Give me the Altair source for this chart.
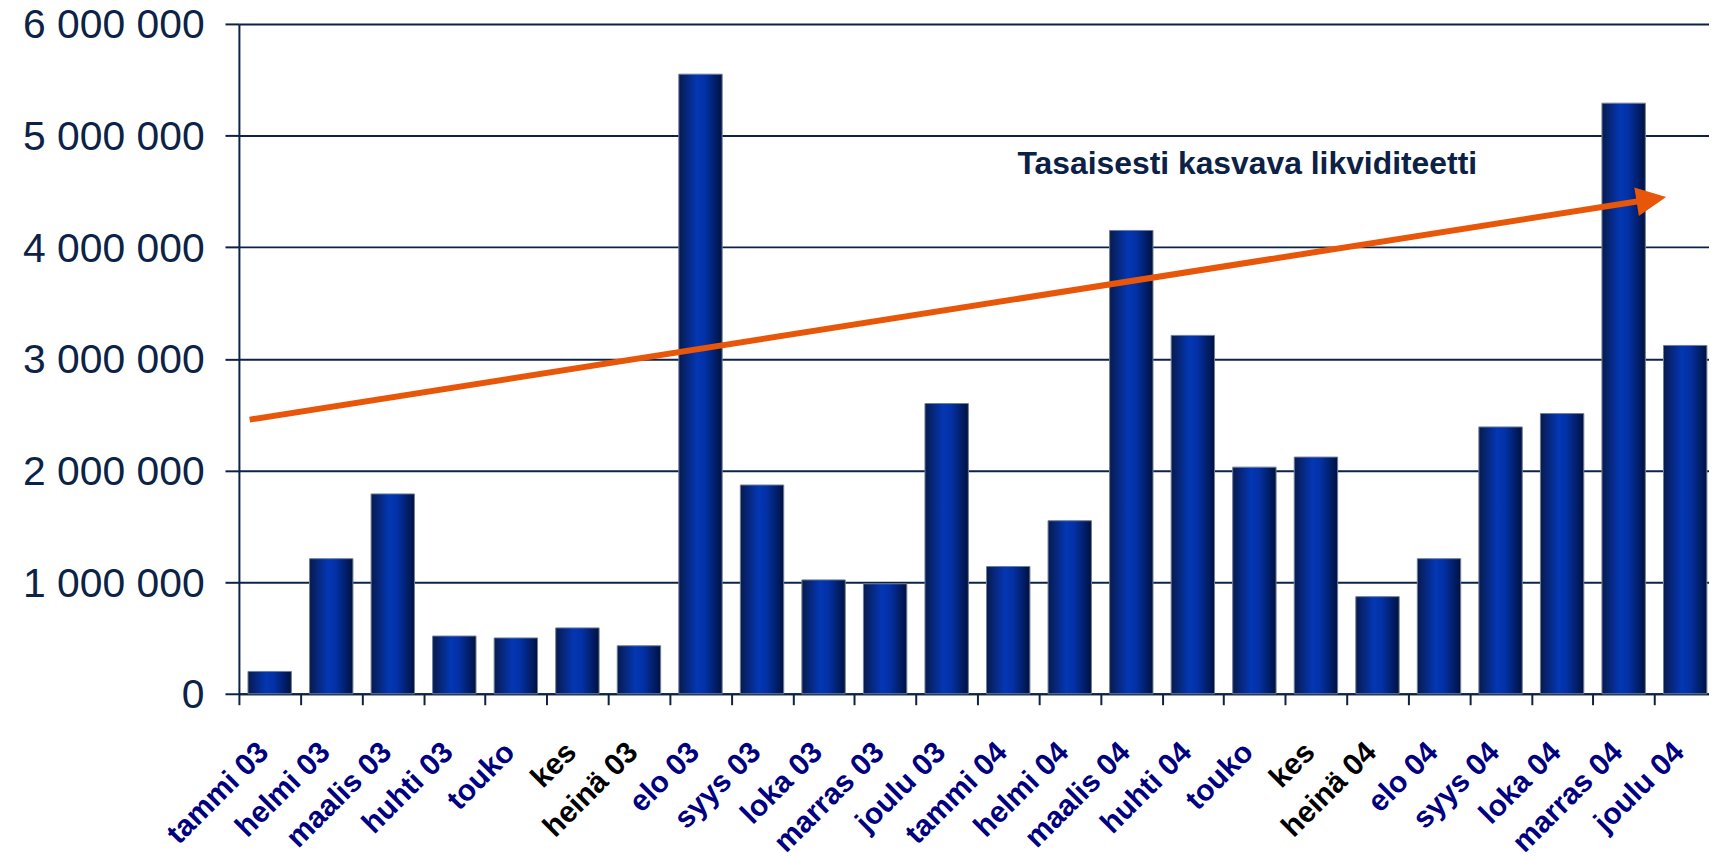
import altair as alt
import pandas as pd

# ---- data ----
months = ["tammi 03", "helmi 03", "maalis 03", "huhti 03", "touko 03", "kesä 03",
          "heinä 03", "elo 03", "syys 03", "loka 03", "marras 03", "joulu 03",
          "tammi 04", "helmi 04", "maalis 04", "huhti 04", "touko 04", "kesä 04",
          "heinä 04", "elo 04", "syys 04", "loka 04", "marras 04", "joulu 04"]
shown_labels = ["tammi 03", "helmi 03", "maalis 03", "huhti 03", "touko", "kes",
                "heinä 03", "elo 03", "syys 03", "loka 03", "marras 03", "joulu 03",
                "tammi 04", "helmi 04", "maalis 04", "huhti 04", "touko", "kes",
                "heinä 04", "elo 04", "syys 04", "loka 04", "marras 04", "joulu 04"]
black_labels = ["kesä 03", "heinä 03", "kesä 04", "heinä 04"]
liquidity = [200000, 1210000, 1790000, 517000, 500000, 590000,
             430000, 5550000, 1870000, 1020000, 985000, 2600000,
             1140000, 1550000, 4150000, 3210000, 2030000, 2120000,
             870000, 1210000, 2390000, 2510000, 5290000, 3120000]
y_ticks = [0, 1000000, 2000000, 3000000, 4000000, 5000000, 6000000]

# trend arrow (in month-index units and value units)
arrow_x = [0.175, 22.9]
arrow_y = [2456000, 4425000]
head_x = [22.95]
head_y = [4428000]
note_text = ["Tasaisesti kasvava likviditeetti"]
note_x = [12.65]
note_y = [4660000]

df = pd.DataFrame({"month": months, "value": liquidity})
arrow_df = pd.DataFrame({"x": arrow_x, "y": arrow_y})
head_df = pd.DataFrame({"x": head_x, "y": head_y})
note_df = pd.DataFrame({"x": note_x, "y": note_y, "t": note_text})

NAVY = "#0c2347"
PLOT_W = 1477
RANGE_W = 1484
PLOT_H = 673

def js_list(lst):
    return "[" + ",".join("'" + s + "'" for s in lst) + "]"

label_expr = f"{js_list(shown_labels)}[indexof({js_list(months)}, datum.value)]"
black_test = f"indexof({js_list(black_labels)}, datum.value) >= 0"

gradient = {
    "gradient": "linear", "x1": 0, "x2": 1, "y1": 0, "y2": 0,
    "stops": [
        {"offset": 0, "color": "#071a4e"},
        {"offset": 0.42, "color": "#0437b4"},
        {"offset": 0.6, "color": "#0331a6"},
        {"offset": 1, "color": "#00113f"},
    ],
}

y_enc = alt.Y(
    "value:Q",
    scale=alt.Scale(domain=[0, 6000000], nice=False, zero=True),
    axis=alt.Axis(
        title=None, values=y_ticks,
        labelExpr="replace(format(datum.value, ','), /,/g, ' ')",
        labelFont="Liberation Sans", labelFontSize=41, labelColor=NAVY,
        labelLimit=400,
        labelPadding=21, labelOffset=2, tickSize=14, tickWidth=2, tickColor=NAVY,
        domainColor=NAVY, domainWidth=2,
        grid=True, gridColor=NAVY, gridWidth=2,
    ),
)

bars = alt.Chart(df).mark_bar(
    color=gradient, stroke="#6f7f98", strokeWidth=1,
    width=alt.RelativeBandSize(0.705),
).encode(
    x=alt.X(
        "month:N", sort=months,
        scale=alt.Scale(range=[0, RANGE_W], paddingInner=0, paddingOuter=0),
        axis=alt.Axis(
            title=None, labelExpr=label_expr, labelAngle=-45,
            labelAlign="right", labelBaseline="alphabetic",
            labelFont="Liberation Sans", labelFontSize=30,
            labelFontWeight="bold",
            labelColor={"condition": {"test": black_test, "value": "#000000"},
                        "value": "#000080"},
            labelPadding=49, labelOverlap=False, labelLimit=400, labelBound=False,
            tickBand="extent", tickSize=11, tickWidth=2, tickColor=NAVY,
            domainColor=NAVY, domainWidth=2, grid=False,
        ),
    ),
    y=y_enc,
)

xq = alt.Scale(domain=[0, 24], range=[0, RANGE_W], nice=False, zero=False)

arrow = alt.Chart(arrow_df).mark_line(
    color="#e8560a", strokeWidth=6, strokeCap="butt"
).encode(
    x=alt.X("x:Q", scale=xq, axis=None),
    y=alt.Y("y:Q"),
)

head = alt.Chart(head_df).mark_point(
    shape="M-1,-0.97L1,0L-1,0.97Z", filled=True, color="#e8560a",
    size=900, angle=351.1, opacity=1, strokeWidth=0,
).encode(
    x=alt.X("x:Q", scale=xq, axis=None),
    y=alt.Y("y:Q"),
)

note = alt.Chart(note_df).mark_text(
    align="left", baseline="alphabetic", font="Liberation Sans",
    fontSize=32, fontWeight="bold", color="#0b2145",
).encode(
    x=alt.X("x:Q", scale=xq, axis=None),
    y=alt.Y("y:Q"),
    text="t:N",
)

chart = alt.layer(bars, arrow, head, note).resolve_scale(
    x="independent"
).resolve_axis(x="independent").properties(
    width=PLOT_W, height=PLOT_H,
    padding={"left": 232, "top": 14, "right": 0, "bottom": 162},
    autosize=alt.AutoSizeParams(type="none"),
).configure_view(stroke=None).configure(background="white")

chart.save("out.html", embed_options={"renderer": "svg", "actions": False})
